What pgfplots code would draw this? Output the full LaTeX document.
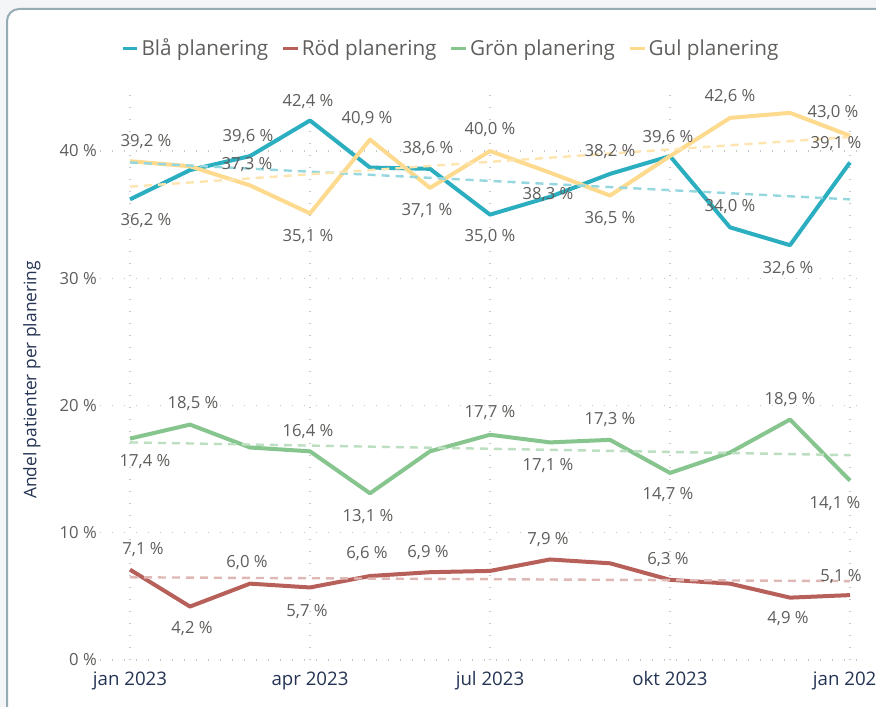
\documentclass[border=0pt]{standalone}
\usepackage{fontspec}
\setmainfont{Open Sans}
\usepackage{pgfplots}
\pgfplotsset{compat=1.18}
\usepackage{pgfplotstable}
\definecolor{cblue}{RGB}{43,175,192}
\definecolor{cred}{RGB}{183,96,90}
\definecolor{cgreen}{RGB}{135,197,143}
\definecolor{cyellow}{RGB}{253,218,142}
\definecolor{txt}{RGB}{96,94,92}
\definecolor{navy}{RGB}{37,52,84}
\definecolor{bgray}{RGB}{243,245,246}
\definecolor{frame}{RGB}{150,172,180}

\pgfplotstableread{
x blue red green yellow
0  36.2 7.1 17.4 39.2
1  38.5 4.2 18.5 38.8
2  39.6 6.0 16.7 37.3
3  42.4 5.7 16.4 35.1
4  38.7 6.6 13.1 40.9
5  38.6 6.9 16.4 37.1
6  35.0 7.0 17.7 40.0
7  36.4 7.9 17.1 38.3
8  38.2 7.6 17.3 36.5
9  39.6 6.3 14.7 39.6
10 34.0 6.0 16.3 42.6
11 32.6 4.9 18.9 43.0
12 39.1 5.1 14.1 41.2
}\main

\pgfplotstableread{
x y dx dy
0 36.2 16 -21
2 39.6 -2 20
3 42.4 -2 19
5 38.6 -2 20
6 35.0 0 -22
8 38.2 0 22
9 39.6 -2 19
10 34.0 0 21
11 32.6 -2 -23
12 39.1 -14 19
}\labblue

\pgfplotstableread{
x y dx dy
0 39.2 16 20
2 37.3 -3 21
3 35.1 -2 -23
4 40.9 -3 21
5 37.1 -3 -23
6 40.0 0 21
7 38.3 -2 -22
8 36.5 0 -23
10 42.6 0 21
11 43.0 43 0
}\labyellow

\pgfplotstableread{
x y dx dy
0 17.4 15 -23
1 18.5 3 21
3 16.4 -2 20
4 13.1 -2 -23
6 17.7 0 22
7 17.1 -2 -23
8 17.3 0 20
9 14.7 -2 -22
11 18.9 0 20
12 14.1 -15 -23
}\labgreen

\pgfplotstableread{
x y dx dy
0 7.1 13 20
1 4.2 2 -22
2 6.0 -3 21
3 5.7 -3 -24
4 6.6 -3 22
5 6.9 -2 20
7 7.9 -2 20
9 6.3 -2 20
11 4.9 -2 -21
12 5.1 -9 19
}\labred

\pgfplotsset{
  lab/.style={forget plot, draw=none, mark=none,
    point meta=\thisrow{y},
    nodes near coords={\pgfmathprintnumber[fixed,fixed zerofill,precision=1,use comma,assume math mode=true]{\pgfplotspointmeta}~\%},
    visualization depends on={\thisrow{dx}\as\dx},
    visualization depends on={\thisrow{dy}\as\dy},
    every node near coord/.append style={font=\fontsize{12.5}{14}\selectfont, text=txt, anchor=center, inner sep=0pt, xshift=\dx*0.75pt, yshift=\dy*0.75pt}},
  trend/.style={forget plot, line width=1.8pt, dash pattern=on 6pt off 4.5pt}
}

\begin{document}
\begin{tikzpicture}[x=0.75pt,y=0.75pt]
\path[use as bounding box, fill=bgray] (0,0) rectangle (876,707);
\draw[frame, line width=1.5pt, fill=white, rounded corners=9pt] (7,-40) rectangle (930,698);
\begin{axis}[
  at={(75pt,35.25pt)}, anchor=south west,
  scale only axis, width=570pt, height=429.45pt,
  xmin=-0.5, xmax=12.1667, ymin=0, ymax=45,
  clip=false,
  axis line style={draw=none},
  major tick length=0pt,
  xtick={0,3,6,9,12},
  xticklabels={jan 2023, apr 2023, jul 2023, okt 2023, jan 2024},
  ytick={0,10,20,30,40},
  yticklabel={\pgfmathprintnumber{\tick}~\%},
  /pgf/number format/assume math mode=true,
  yticklabel style={anchor=east, inner sep=0pt, xshift=-2.25pt, font=\fontsize{12.5}{14}\selectfont, text=txt},
  xticklabel style={anchor=base, inner sep=0pt, yshift=-19.5pt, font=\fontsize{14}{16}\selectfont, text=navy},
  grid=major,
  grid style={line width=1.1pt, dash pattern=on 1.1pt off 7.9pt, color=black!22},
  ylabel={Andel patienter per planering},
  every axis y label/.style={at={(axis description cs:-0.0895,0.489)}, rotate=90, anchor=center, font=\fontsize{13}{15}\selectfont, text=navy},
  legend style={at={(axis description cs:0.462,1.068)}, anchor=center, draw=none, fill=none,
    font=\fontsize{15.5}{17}\selectfont, text=txt, inner sep=0pt,
    /tikz/every even column/.append style={column sep=8pt}},
  legend columns=4,
  legend image code/.code={\draw[#1, line width=2.2pt] (0pt,0pt) -- (11pt,0pt);},
]
\addplot[cblue, line width=3pt, line join=round] table[x=x,y=blue]{\main};
\addlegendentry{Blå planering}
\addplot[cred, line width=3pt, line join=round] table[x=x,y=red]{\main};
\addlegendentry{Röd planering}
\addplot[cgreen, line width=3pt, line join=round] table[x=x,y=green]{\main};
\addlegendentry{Grön planering}
\addplot[cyellow, line width=3pt, line join=round] table[x=x,y=yellow]{\main};
\addlegendentry{Gul planering}

\addplot[trend, cblue!50] coordinates {(0,39.1) (12,36.2)};
\addplot[trend, cred!45] coordinates {(0,6.5) (12,6.2)};
\addplot[trend, cgreen!55] coordinates {(0,17.1) (12,16.1)};
\addplot[trend, cyellow!70] coordinates {(0,37.2) (12,41.1)};

\addplot[lab] table[x=x,y=y]{\labblue};
\addplot[lab] table[x=x,y=y]{\labyellow};
\addplot[lab] table[x=x,y=y]{\labgreen};
\addplot[lab] table[x=x,y=y]{\labred};
\end{axis}
\end{tikzpicture}
\end{document}
